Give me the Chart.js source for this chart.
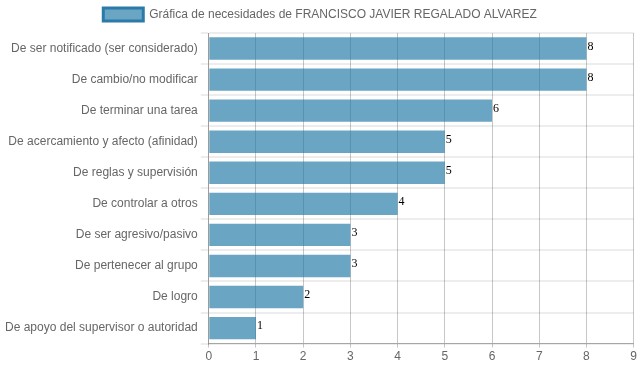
<!DOCTYPE html>
<html lang="es">
<head>
    <meta charset="UTF-8">
    <title>Gráfica de necesidades</title>
    <style>
        html, body {
            margin: 0;
            padding: 0;
            background: #fff;
        }
        #wrap {
            width: 639px;
            height: 372px;
        }
    </style>
</head>
<body>
    <div id="wrap"><canvas id="needsChart"></canvas></div>

    <script src="https://cdn.jsdelivr.net/npm/chart.js"></script>
    <script>
        const seriesLabel = 'Gráfica de necesidades de FRANCISCO JAVIER REGALADO ALVAREZ';
        const categories = [
            'De ser notificado (ser considerado)',
            'De cambio/no modificar',
            'De terminar una tarea',
            'De acercamiento y afecto (afinidad)',
            'De reglas y supervisión',
            'De controlar a otros',
            'De ser agresivo/pasivo',
            'De pertenecer al grupo',
            'De logro',
            'De apoyo del supervisor o autoridad'
        ];
        const values = [8, 8, 6, 5, 5, 4, 3, 3, 2, 1];
        const xTicks = [0, 1, 2, 3, 4, 5, 6, 7, 8, 9];

        Chart.defaults.font.family = '"Liberation Sans", Arial, sans-serif';
        Chart.defaults.font.size = 12;
        Chart.defaults.color = '#666';

        // little numbers at the end of each bar
        const valueLabels = {
            id: 'valueLabels',
            afterDatasetsDraw(chart) {
                const ctx = chart.ctx;
                const meta = chart.getDatasetMeta(0);
                ctx.save();
                ctx.font = '12px "Liberation Serif", "Times New Roman", serif';
                ctx.fillStyle = '#000';
                ctx.textAlign = 'left';
                ctx.textBaseline = 'middle';
                meta.data.forEach((bar, i) => {
                    ctx.fillText(values[i], bar.x + 1, bar.y - 2);
                });
                ctx.restore();
            }
        };

        // a bit more room under the legend
        const legendGap = {
            id: 'legendGap',
            beforeInit(chart) {
                const fit = chart.legend.fit;
                chart.legend.fit = function () {
                    fit.call(this);
                    this.height += 2;
                };
            }
        };

        const ctx = document.getElementById('needsChart').getContext('2d');
        new Chart(ctx, {
            type: 'bar',
            data: {
                labels: categories,
                datasets: [{
                    label: seriesLabel,
                    data: values,
                    backgroundColor: 'rgba(27, 117, 164, 0.65)',
                    borderColor: '#2b7aa8',
                    borderWidth: 0
                }]
            },
            options: {
                indexAxis: 'y',
                responsive: true,
                maintainAspectRatio: false,
                animation: false,
                layout: { padding: { left: 2, right: 1, bottom: 6 } },
                plugins: {
                    legend: {
                        labels: {
                            boxWidth: 40,
                            boxHeight: 13,
                            padding: 8,
                            generateLabels(chart) {
                                const ds = chart.data.datasets[0];
                                return [{
                                    text: ds.label,
                                    fillStyle: ds.backgroundColor,
                                    strokeStyle: ds.borderColor,
                                    lineWidth: 3,
                                    fontColor: '#666',
                                    datasetIndex: 0
                                }];
                            }
                        }
                    },
                    tooltip: { enabled: false }
                },
                scales: {
                    x: {
                        min: 0,
                        max: 9,
                        afterBuildTicks(axis) {
                            axis.ticks = xTicks.map(v => ({ value: v }));
                        },
                        grid: {
                            color: 'rgba(0, 0, 0, 0.22)',
                            tickLength: 4
                        },
                        border: { color: 'rgba(0, 0, 0, 0.3)' },
                        ticks: { color: '#666', padding: 2 }
                    },
                    y: {
                        grid: {
                            color: 'rgba(0, 0, 0, 0.07)',
                            lineWidth: 2,
                            tickLength: 8
                        },
                        border: { color: 'rgba(0, 0, 0, 0.22)' },
                        ticks: { color: '#666', padding: 3 }
                    }
                }
            },
            plugins: [valueLabels, legendGap]
        });
    </script>
</body>
</html>
